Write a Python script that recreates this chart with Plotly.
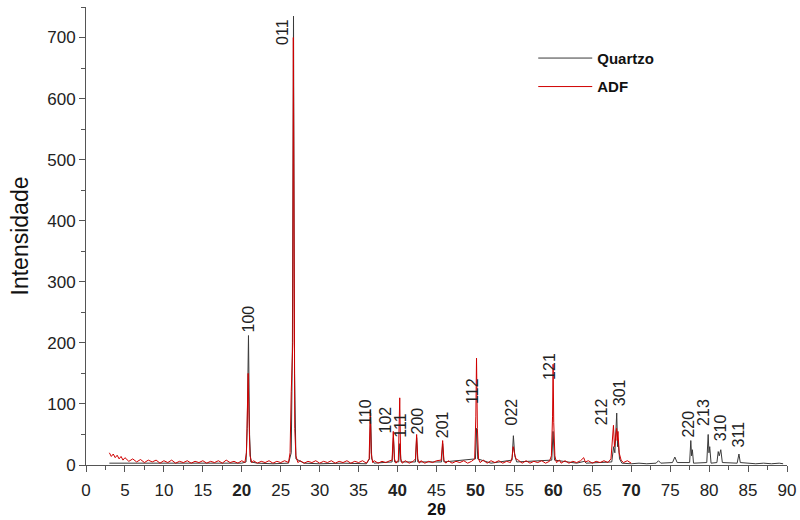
import plotly.graph_objects as go

# ---- data (2θ, intensity) ----
adf_pts = [
    (3.0, 20), (3.25, 14), (3.5, 18), (3.75, 12), (4.0, 16), (4.25, 10), (4.5, 14), (4.75, 8),
    (5.0, 12), (5.5, 6), (6.0, 10), (6.5, 5), (7.0, 9), (7.5, 4), (8.0, 8), (8.5, 5),
    (9.0, 8), (9.5, 3), (10.0, 7), (10.5, 4), (11.0, 8), (11.5, 3), (12.0, 6), (12.5, 4),
    (13.0, 7), (13.5, 3), (14.0, 6), (14.5, 4), (15.0, 7), (15.5, 3), (16.0, 6), (16.5, 4),
    (17.0, 7), (17.5, 3), (18.0, 8), (18.5, 4), (19.0, 6), (19.5, 3), (20.0, 7), (20.4, 4),
    (20.6, 20), (20.75, 100), (20.82, 150), (20.9, 90), (21.05, 15), (21.3, 4),
    (21.5, 7), (22.0, 3), (22.5, 6), (23.0, 4), (23.5, 7), (24.0, 3), (24.5, 6), (25.0, 4),
    (25.5, 7), (26.0, 4),
    (26.2, 20), (26.35, 120), (26.45, 180), (26.55, 200), (26.62, 700), (26.7, 190),
    (26.8, 60), (26.95, 15), (27.2, 4),
    (27.5, 7), (28.0, 3), (28.5, 6), (29.0, 4), (29.5, 7), (30.0, 3), (30.5, 6), (31.0, 4),
    (31.5, 7), (32.0, 3), (32.5, 6), (33.0, 4), (33.5, 7), (34.0, 3), (34.5, 6), (35.0, 4),
    (35.5, 7), (36.0, 3),
    (36.35, 10), (36.5, 90), (36.62, 20), (36.8, 4),
    (37.0, 7), (37.5, 3), (38.0, 6), (38.5, 4), (39.0, 7),
    (39.3, 8), (39.45, 55), (39.6, 10), (39.8, 3),
    (40.1, 8), (40.28, 110), (40.4, 10), (40.6, 3),
    (41.0, 7), (41.5, 3), (42.0, 6),
    (42.3, 10), (42.45, 50), (42.6, 10), (42.8, 3),
    (43.0, 7), (43.5, 3), (44.0, 6), (44.5, 4), (45.0, 7),
    (45.6, 8), (45.79, 40), (45.95, 8), (46.2, 3),
    (46.5, 7), (47.0, 3), (47.5, 6), (48.0, 4), (48.5, 7), (49.0, 3), (49.5, 6),
    (49.9, 10), (50.05, 80), (50.14, 175), (50.25, 60), (50.4, 10), (50.6, 4),
    (51.0, 8), (51.5, 3), (52.0, 7), (52.5, 4), (53.0, 7), (53.5, 3), (54.0, 6), (54.5, 4),
    (54.7, 12), (54.85, 30), (55.0, 20), (55.2, 10), (55.5, 8),
    (56.0, 3), (56.5, 7), (57.0, 3), (57.5, 6), (58.0, 4), (58.5, 7), (59.0, 3), (59.5, 6),
    (59.75, 15), (59.9, 80), (59.97, 165), (60.05, 70), (60.2, 15), (60.4, 4),
    (60.8, 8), (61.0, 3), (61.5, 7), (62.0, 3), (62.5, 6), (63.0, 4), (63.5, 7),
    (63.9, 12), (64.1, 5),
    (64.5, 7), (65.0, 3), (65.5, 6), (66.0, 4), (66.5, 7), (67.0, 4),
    (67.4, 10), (67.6, 40), (67.72, 65), (67.85, 30), (68.0, 45), (68.12, 60), (68.2, 40),
    (68.3, 55), (68.45, 20), (68.7, 8),
    (69.0, 4), (69.5, 7), (70.0, 3),
]

quartzo_pts = [
    (3.0, 3), (5.0, 3), (8.0, 2), (10.0, 3), (12.0, 2), (15.0, 3), (18.0, 2), (20.0, 3),
    (20.55, 5), (20.7, 60), (20.86, 212), (21.0, 50), (21.15, 5),
    (22.0, 3), (24.0, 2), (26.0, 3),
    (26.35, 20), (26.5, 200), (26.64, 735), (26.78, 150), (26.95, 10),
    (28.0, 3), (30.0, 2), (33.0, 3), (36.0, 2),
    (36.4, 10), (36.54, 85), (36.68, 10), (37.0, 3),
    (39.3, 5), (39.47, 45), (39.62, 5),
    (40.15, 5), (40.29, 35), (40.45, 5),
    (42.3, 5), (42.45, 45), (42.6, 5),
    (45.65, 5), (45.79, 35), (45.95, 5),
    (50.0, 10), (50.14, 60), (50.3, 10), (52.0, 3),
    (54.7, 8), (54.87, 48), (55.05, 15), (55.3, 5),
    (59.8, 8), (59.96, 55), (60.15, 8),
    (63.0, 3), (64.0, 6), (64.2, 3),
    (67.5, 5), (67.74, 30), (67.9, 20), (68.14, 85), (68.25, 30), (68.32, 40), (68.5, 10),
    (68.8, 3), (70.0, 2), (71.0, 3), (72.0, 2),
    (73.2, 3), (73.5, 7), (73.8, 3),
    (75.3, 4), (75.6, 13), (75.9, 4),
    (77.5, 4), (77.65, 40), (77.75, 15), (77.85, 25), (78.0, 3),
    (79.7, 4), (79.88, 50), (79.98, 20), (80.08, 30), (80.25, 3),
    (81.0, 4), (81.17, 22), (81.3, 15), (81.5, 25), (81.7, 4),
    (83.6, 3), (83.83, 18), (84.0, 4),
    (85.0, 3), (86.0, 2), (87.0, 3), (88.0, 2), (89.0, 3), (89.5, 2),
]

# Miller index labels: (label, 2θ position, intensity at label base)
hkl_labels = ["100", "011", "110", "102", "111", "200", "201", "112", "022", "121",
              "212", "301", "220", "213", "310", "311"]
hkl_x = [20.8, 25.2, 35.8, 38.5, 40.4, 42.5, 45.8, 49.7, 54.6, 59.5,
         66.2, 68.5, 77.3, 79.3, 81.5, 83.8]
hkl_y = [213, 685, 62, 49, 41, 46, 41, 97, 61, 136,
         62, 93, 41, 61, 36, 25]

x_ticks = [0, 5, 10, 15, 20, 25, 30, 35, 40, 45, 50, 55, 60, 65, 70, 75, 80, 85, 90]
x_bold = [20, 40, 50, 60, 70]
y_ticks = [0, 100, 200, 300, 400, 500, 600, 700]

FONT = "Liberation Sans, Arial, sans-serif"

fig = go.Figure()
fig.add_trace(go.Scatter(
    x=[p[0] for p in quartzo_pts], y=[p[1] for p in quartzo_pts],
    mode="lines", name="<b>Quartzo</b>", legendgroup="q",
    line=dict(color="#3a3a3a", width=1),
))
fig.add_trace(go.Scatter(
    x=[p[0] for p in adf_pts], y=[p[1] for p in adf_pts],
    mode="lines", name="<b>ADF</b>", legendgroup="a",
    line=dict(color="#d00000", width=1),
))

for lab, xv, yv in zip(hkl_labels, hkl_x, hkl_y):
    fig.add_annotation(x=xv, y=yv, text=lab, textangle=-90, showarrow=False,
                       xanchor="center", yanchor="bottom",
                       font=dict(family=FONT, size=16, color="#222"))

axis_common = dict(
    showline=True, linecolor="#555", linewidth=1, mirror=False,
    ticks="outside", tickcolor="#555", ticklen=6, tickwidth=1,
    showgrid=False, zeroline=False, automargin=False,
    tickfont=dict(family=FONT, size=17, color="#222"),
)

fig.update_layout(
    width=800, height=520,
    margin=dict(l=86, r=13, t=7, b=55),
    paper_bgcolor="white", plot_bgcolor="white",
    showlegend=True,
    legend=dict(x=0.638, y=0.924, xanchor="left", yanchor="top",
                font=dict(family=FONT, size=15, color="#111"),
                bgcolor="rgba(0,0,0,0)", itemwidth=54,
                traceorder="grouped", tracegroupgap=6),
    xaxis=dict(
        range=[0, 90], tickvals=x_ticks,
        ticktext=[("<b>%d</b>" % v) if v in x_bold else str(v) for v in x_ticks],
        ticklabelstandoff=4,
        minor=dict(ticks="outside", ticklen=4, tickcolor="#555", dtick=2.5, tick0=0),
        title=dict(text="<b>2θ</b>", font=dict(family=FONT, size=17, color="#111"), standoff=2),
        **axis_common,
    ),
    yaxis=dict(
        range=[0, 750], tickvals=y_ticks,
        minor=dict(ticks="outside", ticklen=4, tickcolor="#555", dtick=50, tick0=0),
        title=dict(text="Intensidade", font=dict(family=FONT, size=23, color="#111"), standoff=12),
        **axis_common,
    ),
)

fig.write_html("out.html")
